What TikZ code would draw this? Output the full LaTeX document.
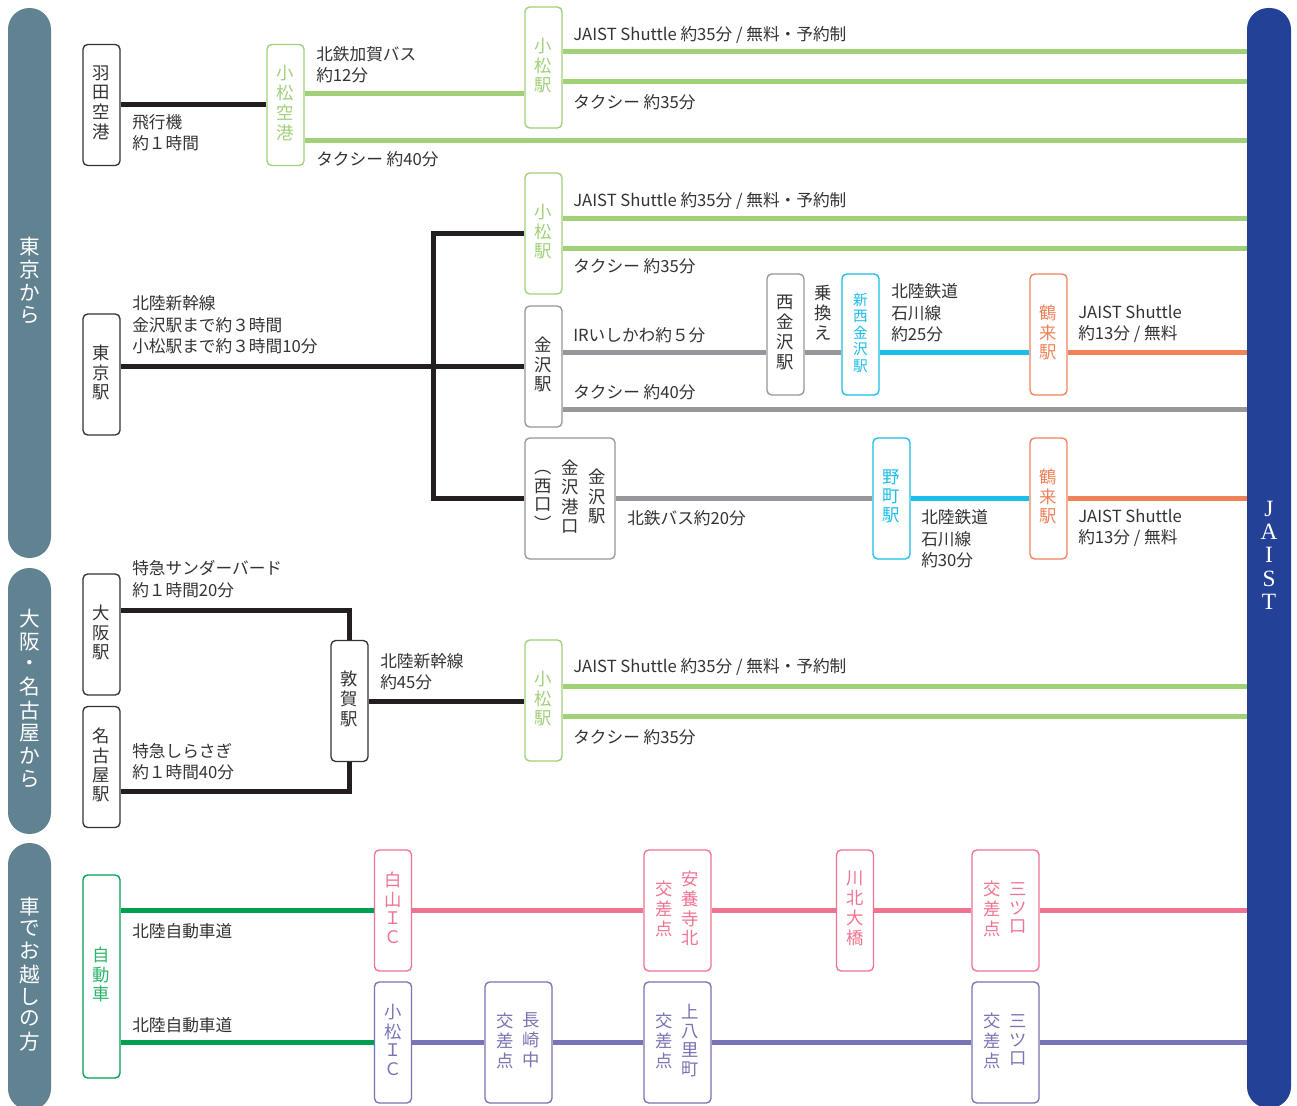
\documentclass[tikz,border=0pt]{standalone}
\usepackage{fontspec}
\newfontfamily\jp{Noto Sans CJK JP}
\newfontfamily\latserif{Liberation Serif}
\definecolor{ink}{HTML}{333333}
\definecolor{blk}{HTML}{231F20}
\definecolor{grayc}{HTML}{96969B}
\definecolor{lgreen}{HTML}{A0D078}
\definecolor{cyanc}{HTML}{19BEEB}
\definecolor{orangec}{HTML}{F0825A}
\definecolor{pinkc}{HTML}{F07391}
\definecolor{purplec}{HTML}{7873B4}
\definecolor{dgreen}{HTML}{00A050}
\definecolor{dgtext}{HTML}{2DB46A}
\definecolor{bandc}{HTML}{608291}
\definecolor{jaistc}{HTML}{234196}
\newcommand\vcol[1]{\begin{tabular}{@{}c@{}}#1\end{tabular}}
\tikzset{
  stn/.style={rectangle, rounded corners=3.5pt, line width=1pt, fill=white,
    minimum width=27.75pt, minimum height=90.75pt, inner sep=0pt,
    font=\jp\fontsize{13}{13.6}\selectfont},
  kbox/.style={stn, draw=ink, text=ink},
  gybox/.style={stn, draw=grayc, text=ink},
  gbox/.style={stn, draw=lgreen, text=lgreen},
  cbox/.style={stn, draw=cyanc, text=cyanc},
  obox/.style={stn, draw=orangec, text=orangec},
  pbox/.style={stn, draw=pinkc, text=pinkc},
  ubox/.style={stn, draw=purplec, text=purplec},
  dgbox/.style={stn, draw=dgreen, text=dgtext},
  widebox/.style={minimum width=50.25pt},
  conn/.style={line width=3.75pt},
  kline/.style={conn, draw=blk},
  gyline/.style={conn, draw=grayc},
  gline/.style={conn, draw=lgreen},
  cline/.style={conn, draw=cyanc},
  oline/.style={conn, draw=orangec},
  pline/.style={conn, draw=pinkc},
  uline/.style={conn, draw=purplec},
  dgline/.style={conn, draw=dgreen},
  lbl/.style={inner sep=0pt, anchor=west, align=left, text=ink,
    font=\jp\fontsize{12.5}{16}\selectfont},
  band/.style={rectangle, rounded corners=16pt, fill=bandc, minimum width=32.25pt,
    inner sep=0pt, text=white, font=\jp\fontsize{15.5}{15.8}\selectfont},
}
\begin{document}
\begin{tikzpicture}[x=0.75pt,y=-0.75pt]
\useasboundingbox (0,0) rectangle (1297,1106);
\fill[white] (0,0) rectangle (1297,1106);

% side bands
\node[band, minimum height=412.5pt] (b1) at (29.5,283) {\vcol{東\\京\\か\\ら}};
\node[band, minimum height=199.5pt] (b2) at (29.5,701) {\vcol{大\\阪\\・\\名\\古\\屋\\か\\ら}};
\node[band, minimum height=200.25pt] (b3) at (29.5,976.5) {\vcol{車\\で\\お\\越\\し\\の\\方}};
\node[band, fill=jaistc, minimum width=33pt, minimum height=825pt,
  font=\latserif\fontsize{17.5}{17.5}\selectfont] (jaist) at (1269,558) {\vcol{J\\A\\I\\S\\T}};

% ---------- section 1: Haneda
\node[kbox] (haneda) at (101.5,105) {\vcol{羽\\田\\空\\港}};
\node[gbox] (kap) at (285.5,105) {\vcol{小\\松\\空\\港}};
\node[gbox] (ks1) at (543.5,67.5) {\vcol{小\\松\\駅}};
\draw[kline] (haneda) -- (kap);
\draw[gline] (kap.east |- 0,94) -- (ks1.west |- 0,94);
\draw[gline] (kap.east |- 0,141) -- (jaist.west |- 0,141);
\draw[gline] (ks1.east |- 0,52) -- (jaist.west |- 0,52);
\draw[gline] (ks1.east |- 0,82) -- (jaist.west |- 0,82);
\node[lbl] (l1) at (316,65) {北鉄加賀バス\\約12分};
\node[lbl] (l2) at (132,133) {飛行機\\約１時間};
\node[lbl] (l3) at (316,159) {タクシー 約40分};
\node[lbl] (l4) at (573,35) {JAIST Shuttle 約35分 / 無料・予約制};
\node[lbl] (l5) at (573,102) {タクシー 約35分};

% ---------- section 2: Tokyo
\node[kbox] (tokyo) at (101.5,374.5) {\vcol{東\\京\\駅}};
\node[gbox] (ks2) at (543.5,233.5) {\vcol{小\\松\\駅}};
\node[gybox] (kz) at (543.5,366.5) {\vcol{金\\沢\\駅}};
\node[gybox] (nk) at (785.5,334.5) {\vcol{西\\金\\沢\\駅}};
\node[cbox, font=\jp\fontsize{11}{11.3}\selectfont] (snk) at (860.5,334.5) {\vcol{新\\西\\金\\沢\\駅}};
\node[obox] (tr1) at (1048.5,334.5) {\vcol{鶴\\来\\駅}};
\node[gybox, minimum width=67.5pt] (kp) at (570,498.5)
  {\vcol{︵\\西\\口\\︶}\hspace{7pt}\vcol{金\\沢\\港\\口}\hspace{7pt}\vcol{金\\沢\\駅}};
\node[cbox] (nm) at (891.5,498.5) {\vcol{野\\町\\駅}};
\node[obox] (tr2) at (1048.5,498.5) {\vcol{鶴\\来\\駅}};
\coordinate (jct) at (433,366);
\draw[kline] (tokyo.east |- 0,366) -- (kz.west |- 0,366);
\draw[kline] (ks2.west |- 0,233) -| (jct) |- (kp.west |- 0,498);
\draw[gline] (ks2.east |- 0,218) -- (jaist.west |- 0,218);
\draw[gline] (ks2.east |- 0,248) -- (jaist.west |- 0,248);
\draw[gyline] (kz.east |- 0,352) -- (nk.west |- 0,352);
\draw[gyline] (nk.east |- 0,352) -- (snk.west |- 0,352);
\draw[cline] (snk.east |- 0,352) -- (tr1.west |- 0,352);
\draw[oline] (tr1.east |- 0,352) -- (jaist.west |- 0,352);
\draw[gyline] (kz.east |- 0,409) -- (jaist.west |- 0,409);
\draw[gyline] (kp.east |- 0,498) -- (nm.west |- 0,498);
\draw[cline] (nm.east |- 0,498) -- (tr2.west |- 0,498);
\draw[oline] (tr2.east |- 0,498) -- (jaist.west |- 0,498);
\node[lbl] (l6) at (132,325) {北陸新幹線\\金沢駅まで約３時間\\小松駅まで約３時間10分};
\node[lbl] (l7) at (573,201) {JAIST Shuttle 約35分 / 無料・予約制};
\node[lbl] (l8) at (573,266) {タクシー 約35分};
\node[lbl] (l9) at (573,335) {IRいしかわ約５分};
\node[lbl] (l10) at (573,392) {タクシー 約40分};
\node[stn, draw=none, fill=none, minimum height=0pt, text=ink] (norikae) at (823,315) {\vcol{乗\\換\\え}};
\node[lbl] (l11) at (891,313) {北陸鉄道\\石川線\\約25分};
\node[lbl] (l12) at (1078,324) {JAIST Shuttle\\約13分 / 無料};
\node[lbl] (l13) at (627,518) {北鉄バス約20分};
\node[lbl] (l14) at (921,539) {北陸鉄道\\石川線\\約30分};
\node[lbl] (l15) at (1078,528) {JAIST Shuttle\\約13分 / 無料};

% ---------- section 3: Osaka / Nagoya
\node[kbox] (osaka) at (101.5,634.5) {\vcol{大\\阪\\駅}};
\node[kbox] (nagoya) at (101.5,767) {\vcol{名\\古\\屋\\駅}};
\node[kbox] (tsuruga) at (349.5,701) {\vcol{敦\\賀\\駅}};
\node[gbox] (ks3) at (543.5,700.5) {\vcol{小\\松\\駅}};
\draw[kline] (osaka.east |- 0,610) -| (tsuruga.north);
\draw[kline] (nagoya.east |- 0,791) -| (tsuruga.south);
\draw[kline] (tsuruga.east |- 0,701) -- (ks3.west |- 0,701);
\draw[gline] (ks3.east |- 0,686) -- (jaist.west |- 0,686);
\draw[gline] (ks3.east |- 0,716) -- (jaist.west |- 0,716);
\node[lbl] (l16) at (132,579) {特急サンダーバード\\約１時間20分};
\node[lbl] (l17) at (132,762) {特急しらさぎ\\約１時間40分};
\node[lbl] (l18) at (380,672) {北陸新幹線\\約45分};
\node[lbl] (l19) at (573,667) {JAIST Shuttle 約35分 / 無料・予約制};
\node[lbl] (l20) at (573,737) {タクシー 約35分};

% ---------- section 4: car
\node[dgbox, minimum height=152.25pt] (car) at (101.5,976.5) {\vcol{自\\動\\車}};
\node[pbox] (hic) at (393,910.5) {\vcol{白\\山\\Ｉ\\Ｃ}};
\node[pbox, widebox] (ay) at (677.5,910.5) {\vcol{交\\差\\点}\hspace{6.5pt}\vcol{安\\養\\寺\\北}};
\node[pbox] (kk) at (855,910.5) {\vcol{川\\北\\大\\橋}};
\node[pbox, widebox] (mk1) at (1005.5,910.5) {\vcol{交\\差\\点}\hspace{6.5pt}\vcol{三\\ツ\\口}};
\node[ubox] (kic) at (393,1042.5) {\vcol{小\\松\\Ｉ\\Ｃ}};
\node[ubox, widebox] (nz) at (518.5,1042.5) {\vcol{交\\差\\点}\hspace{6.5pt}\vcol{長\\崎\\中}};
\node[ubox, widebox] (ky) at (677.5,1042.5) {\vcol{交\\差\\点}\hspace{6.5pt}\vcol{上\\八\\里\\町}};
\node[ubox, widebox] (mk2) at (1005.5,1042.5) {\vcol{交\\差\\点}\hspace{6.5pt}\vcol{三\\ツ\\口}};
\draw[dgline] (car.east |- 0,910) -- (hic.west |- 0,910);
\draw[dgline] (car.east |- 0,1042) -- (kic.west |- 0,1042);
\draw[pline] (hic.east |- 0,910) -- (ay.west |- 0,910);
\draw[pline] (ay.east |- 0,910) -- (kk.west |- 0,910);
\draw[pline] (kk.east |- 0,910) -- (mk1.west |- 0,910);
\draw[pline] (mk1.east |- 0,910) -- (jaist.west |- 0,910);
\draw[uline] (kic.east |- 0,1042) -- (nz.west |- 0,1042);
\draw[uline] (nz.east |- 0,1042) -- (ky.west |- 0,1042);
\draw[uline] (ky.east |- 0,1042) -- (mk2.west |- 0,1042);
\draw[uline] (mk2.east |- 0,1042) -- (jaist.west |- 0,1042);
\node[lbl] (l21) at (132,931) {北陸自動車道};
\node[lbl] (l22) at (132,1025) {北陸自動車道};
\end{tikzpicture}
\end{document}
